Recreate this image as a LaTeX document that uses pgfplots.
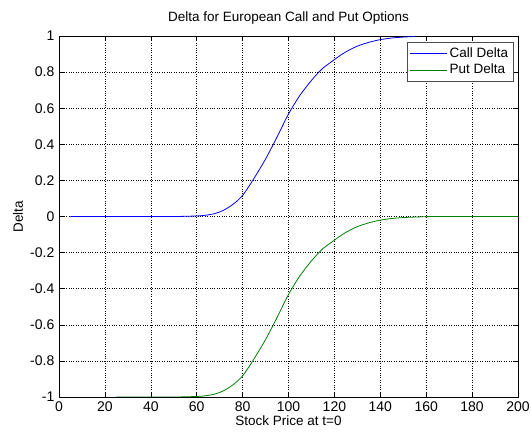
\documentclass[border=0pt]{standalone}
\usepackage{fontspec}
\setmainfont{Liberation Sans}
\usepackage{pgfplots}
\pgfplotsset{compat=1.18}
\begin{document}
\fontsize{13.5bp}{16bp}\selectfont
\begin{tikzpicture}
\path[use as bounding box] (-59bp,-36bp) rectangle (472bp,397bp);
\begin{axis}[
  scale only axis,
  width=459bp, height=361bp,
  xmin=0, xmax=200, ymin=-1, ymax=1,
  xtick={0,20,...,200},
  ytick={-1,-0.8,-0.6,-0.4,-0.2,0,0.2,0.4,0.6,0.8,1},
  yticklabels={-1,-0.8,-0.6,-0.4,-0.2,0,0.2,0.4,0.6,0.8,1},
  /pgf/number format/assume math mode=true,
  tick label style={font=\fontsize{14bp}{16bp}\selectfont},
  tick align=inside,
  major tick length=5bp,
  tick style={black, line width=0.6pt},
  axis line style={black, line width=0.6pt},
  grid=major,
  major grid style={black, dotted, line width=0.6pt},
  title={Delta for European Call and Put Options},
  title style={yshift=1bp},
  xlabel={Stock Price at t=0},
  ylabel={Delta},
  xlabel style={yshift=5bp},
  ylabel style={yshift=-2bp},
  legend style={at={(rel axis cs:0.99,0.983)}, anchor=north east, draw=black!70, line width=0.6pt,
    font=\fontsize{13.5bp}{16bp}\selectfont, row sep=1bp, inner sep=3bp,
    legend cell align=left},
  legend image code/.code={\draw[#1] (0cm,0cm) -- (1.3cm,0cm);},
]
\addplot[blue, line width=0.8pt, smooth, tension=0.4] coordinates {
(5,0) (10,0) (15,0) (20,0) (25,0) (30,0) (35,0) (40,0) (45,0) (50,0)
(55,0.001) (60,0.003) (62.5,0.005) (65,0.009) (67.5,0.015) (70,0.025) (72.5,0.04)
(75,0.06) (77.5,0.085) (80,0.117) (82.5,0.162) (85,0.212) (87.5,0.264)
(90,0.318) (92.5,0.378) (95,0.44) (97.5,0.505) (100,0.568) (102.5,0.622)
(105,0.672) (107.5,0.714) (110,0.754) (112.5,0.79) (115,0.822) (117.5,0.846)
(120,0.869) (122.5,0.892) (125,0.912) (127.5,0.929) (130,0.944) (132.5,0.955)
(135,0.965) (137.5,0.973) (140,0.98) (145,0.989) (150,0.994) (155,0.997)
};
\addlegendentry{Call Delta}
\addplot[black!50!green, line width=0.8pt, smooth, tension=0.4] coordinates {
(25,-1) (30,-1) (35,-1) (40,-1) (45,-1) (50,-1)
(55,-0.999) (60,-0.997) (62.5,-0.995) (65,-0.991) (67.5,-0.985) (70,-0.975) (72.5,-0.96)
(75,-0.94) (77.5,-0.915) (80,-0.883) (82.5,-0.838) (85,-0.788) (87.5,-0.736)
(90,-0.682) (92.5,-0.622) (95,-0.56) (97.5,-0.495) (100,-0.432) (102.5,-0.378)
(105,-0.328) (107.5,-0.286) (110,-0.246) (112.5,-0.21) (115,-0.178) (117.5,-0.154)
(120,-0.131) (122.5,-0.108) (125,-0.088) (127.5,-0.071) (130,-0.056) (132.5,-0.045)
(135,-0.035) (137.5,-0.027) (140,-0.02) (145,-0.011) (150,-0.006) (155,-0.003)
(160,-0.001) (165,0) (170,0) (175,0) (180,0) (185,0) (190,0) (195,0) (200,0)
};
\addlegendentry{Put Delta}
\end{axis}
\end{tikzpicture}
\end{document}
